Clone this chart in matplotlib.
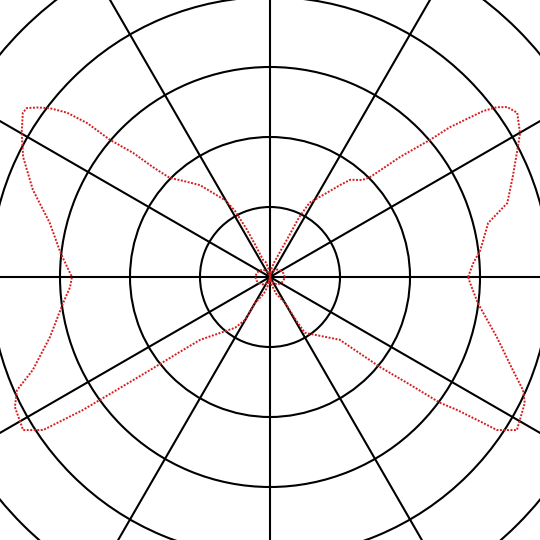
import numpy as np
import matplotlib
matplotlib.use("Agg")
import matplotlib.pyplot as plt

# main pattern, angle in degrees, radius in grid units
theta_deg = [
    0, 3.9, 7.3, 13.9, 17.3, 22.4, 27.7, 29.9, 33.6, 35.6, 36.8, 37.9,
    39.8, 40.6, 42.7, 45.0, 46.5, 50.5, 52.7, 56.0, 62.0, 64.0, 65.5,
    68.0, 74.0, 82.0, 90.0,
    98.0, 106.0, 112.0, 114.5, 116.0, 117.9, 120.3, 127.3, 132.9, 135.3,
    136.8, 137.8, 139.4, 139.9, 141.0, 142.5, 143.9, 145.2, 146.4, 149.9,
    154.1, 159.8, 166.2, 173.5, 180.0,
    182.9, 187.2, 195.3, 201.4, 204.1, 207.0, 211.8, 214.0, 215.4, 216.4,
    217.8, 220.0, 222.0, 235.5, 239.8, 240.0, 250.0, 260.0, 270.0,
    280.0, 290.0, 300.0, 301.3, 302.0, 318.0, 320.7, 322.3, 323.5, 324.6,
    325.6, 326.0, 328.2, 333.7, 335.9, 339.1, 345.2, 352.9, 358.3, 360.0,
]
radius = [
    2.83, 2.91, 3.03, 3.21, 3.55, 3.75, 4.00, 4.12, 4.24, 4.17, 4.05, 3.86,
    3.34, 3.01, 2.53, 2.01, 1.91, 1.80, 1.65, 1.45, 1.20, 0.95, 0.60,
    0.40, 0.22, 0.10, 0.0,
    0.10, 0.22, 0.26, 0.48, 0.76, 1.07, 1.27, 1.65, 1.89, 2.01,
    2.29, 2.64, 3.01, 3.41, 3.73, 3.96, 4.11, 4.23, 4.24, 4.10,
    3.92, 3.61, 3.24, 3.01, 2.83,
    2.86, 2.98, 3.26, 3.64, 3.96, 4.09, 4.15, 3.91, 3.28, 2.71,
    2.17, 1.62, 1.34, 0.88, 0.71, 0.43, 0.25, 0.10, 0.0,
    0.10, 0.25, 0.43, 0.77, 0.94, 1.34, 2.03, 2.47, 3.02, 3.28,
    3.69, 3.91, 4.15, 4.06, 3.96, 3.71, 3.35, 2.99, 2.86, 2.83,
]

# small figure-eight near the centre
loop_theta_deg = [0, 15, 30, 45, 60, 75, 90, 105, 120, 135, 150, 165, 180,
                  195, 210, 225, 240, 255, 270, 285, 300, 315, 330, 345, 360]
loop_radius = [0.21, 0.20, 0.18, 0.15, 0.105, 0.055, 0.0, 0.055, 0.105, 0.15,
               0.18, 0.20, 0.21, 0.20, 0.18, 0.15, 0.105, 0.055, 0.0, 0.055,
               0.105, 0.15, 0.18, 0.20, 0.21]

r_ticks = [1, 2, 3, 4, 5]
theta_ticks = list(range(0, 360, 30))

fig = plt.figure(figsize=(5.4, 5.4), dpi=100)
size = 840 / 540
cy = 1 - 277 / 540
ax = fig.add_axes([0.5 - size / 2, cy - size / 2, size, size], projection="polar")

red = "#d81e1e"
ax.plot(np.deg2rad(theta_deg), radius, color=red, lw=1.4, ls=(0, (1, 0.8)))
ax.plot(np.deg2rad(loop_theta_deg), loop_radius, color=red, lw=1.4, ls=(0, (1, 0.8)))

ax.set_ylim(0, 6)
ax.set_yticks(r_ticks)
ax.set_yticklabels([])
ax.set_xticks(np.deg2rad(theta_ticks))
ax.set_xticklabels([])
ax.grid(True, color="black", linewidth=1.5, linestyle="-")
ax.set_axisbelow(True)
ax.spines["polar"].set_visible(False)
ax.tick_params(length=0)

fig.savefig("out.png", dpi=100)
